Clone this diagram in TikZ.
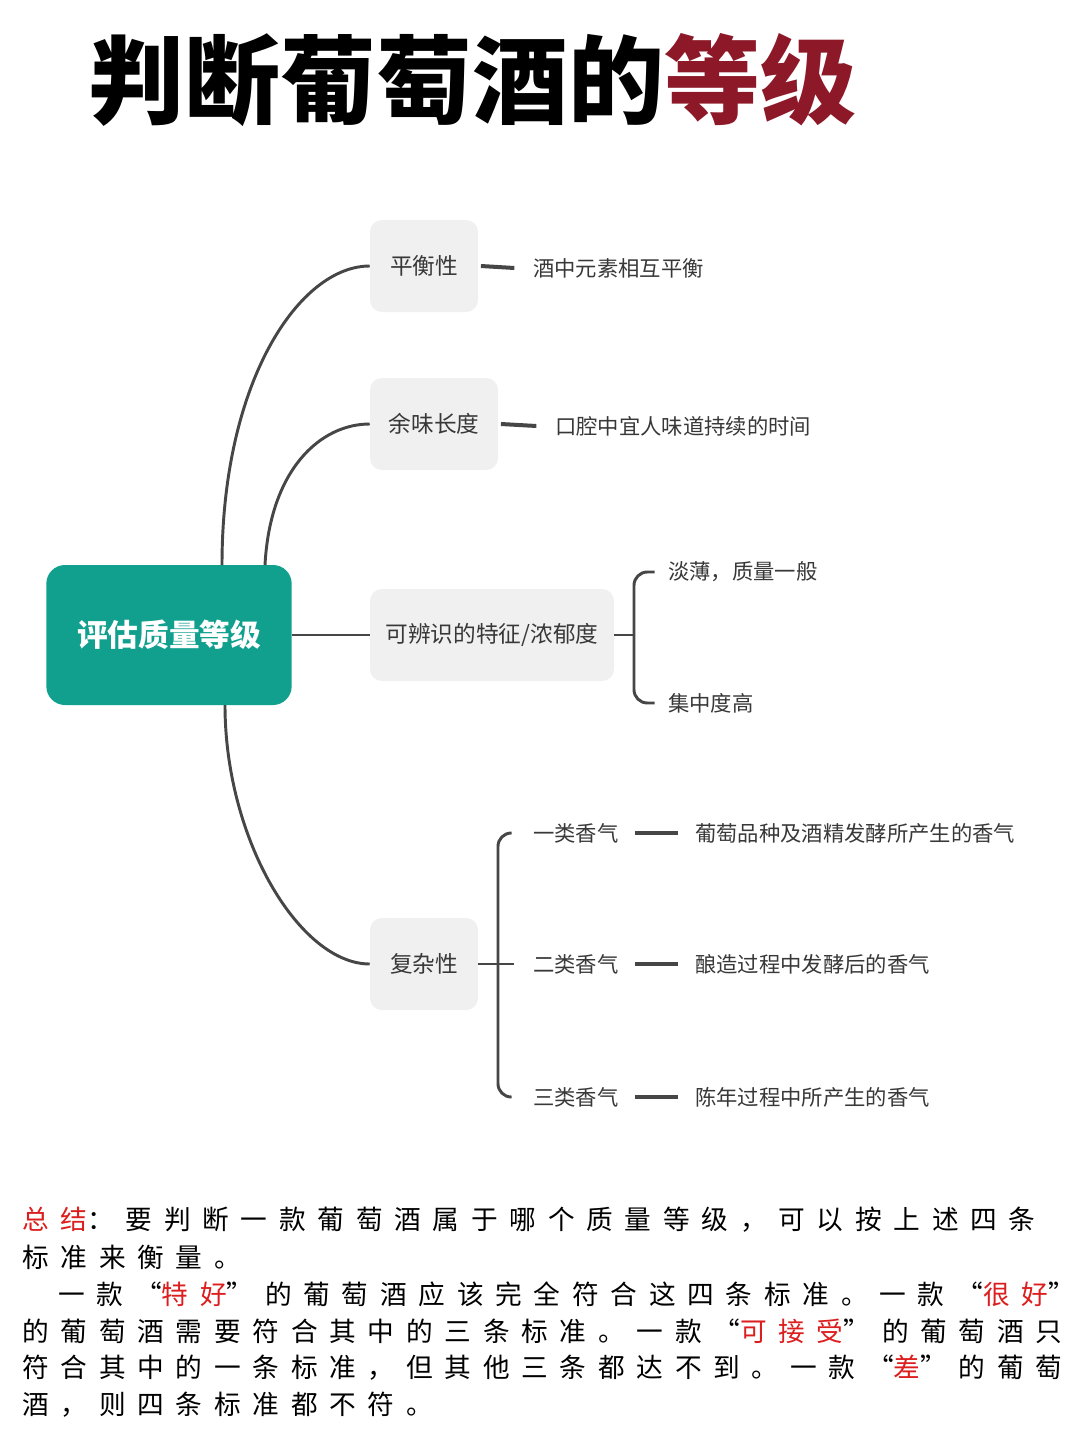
\documentclass[tikz,border=0pt]{standalone}
\usepackage{fontspec}
\setmainfont{Noto Sans CJK SC}
\newfontfamily\cjk{Noto Sans CJK SC}
\newfontfamily\cjksum[LetterSpace=44]{Noto Sans CJK SC}
\usepackage{xcolor}
\usetikzlibrary{positioning}
\definecolor{rootteal}{RGB}{18,160,142}
\definecolor{boxgray}{RGB}{240,240,240}
\definecolor{linegray}{RGB}{70,70,70}
\definecolor{titlered}{RGB}{140,24,40}
\definecolor{sumred}{RGB}{220,30,30}
\tikzset{
  topic/.style={fill=boxgray, rounded corners=9pt, minimum height=69pt, font=\cjk\fontsize{17}{20}\selectfont, text=linegray!80!black},
  leaf/.style={anchor=west, inner sep=0pt, font=\cjk\fontsize{16}{20}\selectfont, text=linegray!80!black},
  branch/.style={draw=linegray, line width=2.2pt},
  dash line/.style={draw=linegray, line width=3pt},
  sumline/.style={anchor=west, inner sep=0pt, font=\cjksum\fontsize{20}{24}\selectfont}
}
\begin{document}
\begin{tikzpicture}[x=0.75pt, y=-0.75pt]
    \useasboundingbox[fill=white] (0,0) rectangle (1080,1441);

    % title
    \node (title) [anchor=west, inner sep=0pt, font=\cjk\bfseries\fontsize{72}{76}\selectfont] at (88,80) {判断葡萄酒的\textcolor{titlered}{等级}};

    % root and topics
    \node (root) [fill=rootteal, rounded corners=14pt, minimum width=184pt, minimum height=105pt, text=white, font=\cjk\bfseries\fontsize{23}{26}\selectfont] at (169,635) {评估质量等级};
    \node (balance) [topic, minimum width=81pt] at (424,266) {平衡性};
    \node (finish) [topic, minimum width=96pt] at (434,424) {余味长度};
    \node (intensity) [topic, minimum width=183pt] at (492,635) {可辨识的特征/浓郁度};
    \node (complex) [topic, minimum width=81pt] at (424,964) {复杂性};

    \coordinate (r1) at (222,565);
    \coordinate (r2) at (265,565);
    \coordinate (r4) at (225,705);
    \draw[branch] (r1) .. controls (222,380) and (300,266) .. (balance.west);
    \draw[branch] (r2) .. controls (270,470) and (320,424) .. (finish.west);
    \draw[branch] (root.east) -- (intensity.west);
    \draw[branch] (r4) .. controls (225,840) and (300,964) .. (complex.west);

    % leaves of balance and finish
    \node (balanceText) [leaf] at (533,268) {酒中元素相互平衡};
    \node (finishText) [leaf] at (555,426) {口腔中宜人味道持续的时间};
    \draw[dash line] ([xshift=2pt]balance.east) -- ([xshift=-14pt]balanceText.west);
    \draw[dash line] ([xshift=2pt]finish.east) -- ([xshift=-14pt]finishText.west);

    % intensity bracket
    \node (thin) [leaf] at (668,572) {淡薄，质量一般};
    \node (concentrated) [leaf] at (668,703) {集中度高};
    \coordinate (ib) at (634,635);
    \draw[branch] (intensity.east) -- (ib);
    \draw[branch, rounded corners=10pt] ([xshift=-10pt]thin.west) -| (ib) |- ([xshift=-10pt]concentrated.west);

    % complexity bracket
    \coordinate (cb) at (498,964);
    \draw[branch] (complex.east) -- (cb);
    \node (aroma1) [leaf] at (533,833) {一类香气};
    \node (aroma2) [leaf] at (533,964) {二类香气};
    \node (aroma3) [leaf] at (533,1097) {三类香气};
    \draw[branch, rounded corners=10pt] ([xshift=-16pt]aroma1.west) -| (cb) |- ([xshift=-16pt]aroma3.west);
    \draw[branch] (cb) -- ([xshift=-14pt]aroma2.west);
    \node (aroma1Text) [leaf] at (695,833) {葡萄品种及酒精发酵所产生的香气};
    \node (aroma2Text) [leaf] at (695,964) {酿造过程中发酵后的香气};
    \node (aroma3Text) [leaf] at (695,1097) {陈年过程中所产生的香气};
    \foreach \a in {1,2,3}
      \draw[dash line] ([xshift=12pt]aroma\a.east) -- ([xshift=-13pt]aroma\a Text.west);

    % summary
    \node (sum1) [sumline] at (22,1220) {\textcolor{sumred}{总结}：要判断一款葡萄酒属于哪个质量等级，可以按上述四条};
    \node (sum2) [sumline] at (22,1257) {标准来衡量。};
    \node (sum3) [sumline] at (58,1294) {一款“\textcolor{sumred}{特好}”的葡萄酒应该完全符合这四条标准。一款“\textcolor{sumred}{很好}”};
    \node (sum4) [sumline] at (22,1331) {的葡萄酒需要符合其中的三条标准。一款“\textcolor{sumred}{可接受}”的葡萄酒只};
    \node (sum5) [sumline] at (22,1368) {符合其中的一条标准，但其他三条都达不到。一款“\textcolor{sumred}{差}”的葡萄};
    \node (sum6) [sumline] at (22,1405) {酒，则四条标准都不符。};
\end{tikzpicture}
\end{document}
